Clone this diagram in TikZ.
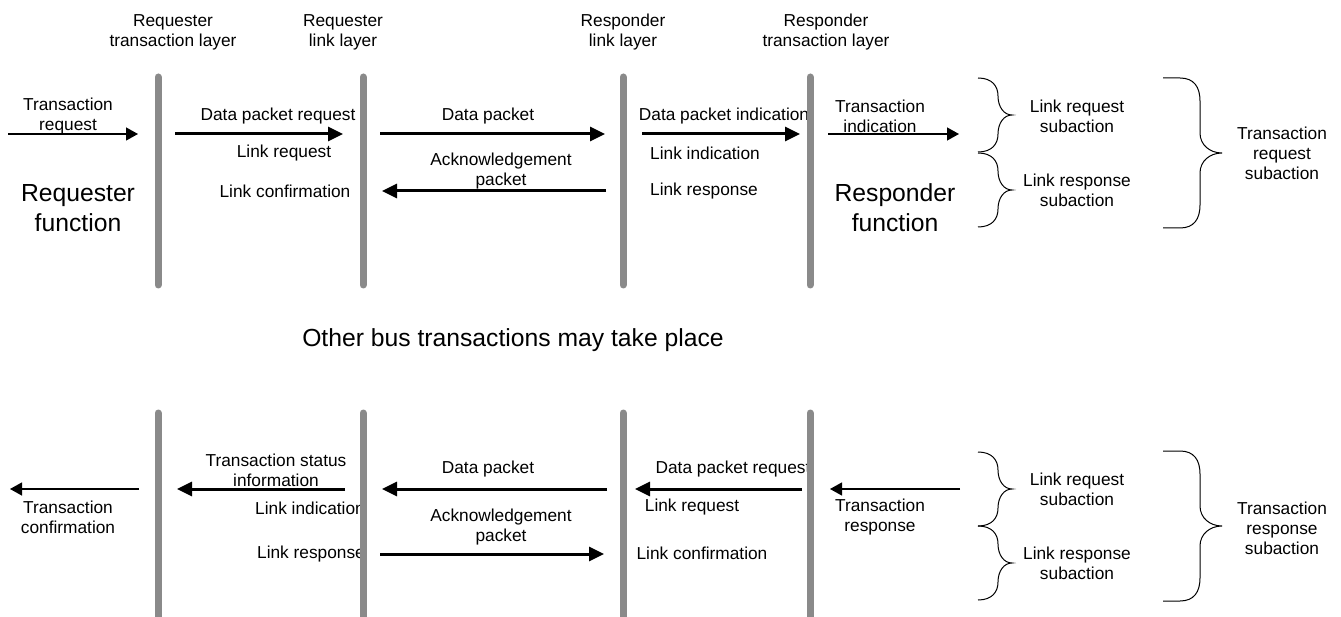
\documentclass[tikz,border=0pt]{standalone}
\usepackage{fontspec}
\setmainfont{Liberation Sans}
\usetikzlibrary{arrows.meta}
\definecolor{layergray}{RGB}{138,138,138}
\tikzset{
  txt/.style={
    inner sep=0pt,
    align=center,
    font=\fontsize{17.3}{20}\selectfont
    },
  bigtxt/.style={
    inner sep=0pt,
    align=center,
    font=\fontsize{24.7}{30}\selectfont
    },
  lifeline/.style={line width=7pt, draw=layergray, line cap=round},
  arrow/.style={line width=3pt, -{Triangle[length=15pt,width=14pt]}},
  thinarrow/.style={line width=1.3pt, -{Triangle[length=12pt,width=13pt]}},
  smallbrace/.pic={
    \draw[line width=1pt] (-34,-37) .. controls (-20,-37) and (-14,-29) .. (-14,-19)
      .. controls (-14,-8) and (-8,0) .. (0,0)
      .. controls (-8,0) and (-14,8) .. (-14,19)
      .. controls (-14,29) and (-20,37) .. (-34,37);
    },
  bigbrace/.pic={
    \draw[line width=1pt] (-59,-75) -- (-42,-75) .. controls (-28,-75) and (-22,-66) .. (-22,-52)
      -- (-22,-20) .. controls (-22,-8) and (-12,0) .. (0,0)
      .. controls (-12,0) and (-22,8) .. (-22,20) -- (-22,52)
      .. controls (-22,66) and (-28,75) .. (-42,75) -- (-59,75);
    },
}

\begin{document}
\begin{tikzpicture}[
            x = 1pt, y = -1pt, % one unit per pixel, y downwards
            semithick % line style
        ]
  \useasboundingbox (0,0) rectangle (1341,617);

  % layer headings
  \node[txt] (hrqt) at (173,32) {Requester\\transaction layer};
  \node[txt] (hrql) at (343,32) {Requester\\link layer};
  \node[txt] (hrsl) at (623,32) {Responder\\link layer};
  \node[txt] (hrst) at (826,32) {Responder\\transaction layer};

  % request subaction
  \node[txt] (treq) at (68,116) {Transaction\\request};
  \node[txt] (dpreq) at (278,116) {Data packet request};
  \node[txt] (lreq) at (284,153) {Link request};
  \node[txt] (lconf) at (285,191) {Link confirmation};
  \node[bigtxt] (rqfun) at (78,208) {Requester\\function};
  \node[txt] (dp) at (488,116) {Data packet};
  \node[txt] (ack) at (501,171) {Acknowledgement\\packet};
  \node[txt] (dpind) at (724,116) {Data packet indication};
  \node[txt] (lind) at (705,153) {Link indication};
  \node[txt] (lresp) at (704,191) {Link response};
  \node[txt] (tind) at (880,116) {Transaction\\indication};
  \node[bigtxt] (rsfun) at (895,208) {Responder\\function};
  \node[txt] (lreqsub) at (1077,116) {Link request\\subaction};
  \node[txt] (lrespsub) at (1077,190) {Link response\\subaction};
  \node[txt] (treqsub) at (1282,153) {Transaction\\request\\subaction};

  \node[bigtxt] (other) at (513,340) {Other bus transactions may take place};

  % response subaction
  \node[txt] (tconf) at (68,517) {Transaction\\confirmation};
  \node[txt] (tstat) at (276,470) {Transaction status\\information};
  \node[txt] (lind2) at (310,508) {Link indication};
  \node[txt] (lresp2) at (311,554) {Link response};
  \node[txt] (dp2) at (488,469) {Data packet};
  \node[txt] (ack2) at (501,527) {Acknowledgement\\packet};
  \node[txt] (dpreq2) at (733,469) {Data packet request};
  \node[txt] (lreq2) at (692,507) {Link request};
  \node[txt] (lconf2) at (702,553) {Link confirmation};
  \node[txt] (tresp) at (880,517) {Transaction\\response};
  \node[txt] (lreqsub2) at (1077,489) {Link request\\subaction};
  \node[txt] (lrespsub2) at (1077,563) {Link response\\subaction};
  \node[txt] (trespsub) at (1282,528) {Transaction\\response\\subaction};

  % layers
  \draw[lifeline] (158,77) -- (158,285);
  \draw[lifeline] (363,77) -- (363,285);
  \draw[lifeline] (623,77) -- (623,285);
  \draw[lifeline] (810,77) -- (810,285);
  \draw[lifeline] (158,413) -- (158,630);
  \draw[lifeline] (363,413) -- (363,630);
  \draw[lifeline] (623,413) -- (623,630);
  \draw[lifeline] (810,413) -- (810,630);

  % arrow ends
  \coordinate (treq0) at (8,134);    \coordinate (treq1) at (138,134);
  \coordinate (dpreq0) at (175,134); \coordinate (dpreq1) at (343,134);
  \coordinate (dp0) at (380,134);    \coordinate (dp1) at (605,134);
  \coordinate (ack0) at (606,191);   \coordinate (ack1) at (382,191);
  \coordinate (dpind0) at (642,134); \coordinate (dpind1) at (800,134);
  \coordinate (tind0) at (828,134);  \coordinate (tind1) at (959,134);

  \coordinate (tconf0) at (139,489);  \coordinate (tconf1) at (10,489);
  \coordinate (tstat0) at (345,489);  \coordinate (tstat1) at (177,489);
  \coordinate (dp20) at (607,489);    \coordinate (dp21) at (382,489);
  \coordinate (ack20) at (380,554);   \coordinate (ack21) at (604,554);
  \coordinate (dpreq20) at (802,489); \coordinate (dpreq21) at (635,489);
  \coordinate (tresp0) at (960,489);  \coordinate (tresp1) at (830,489);

  \draw[thinarrow] (treq0) -- (treq1);
  \draw[arrow] (dpreq0) -- (dpreq1);
  \draw[arrow] (dp0) -- (dp1);
  \draw[arrow] (ack0) -- (ack1);
  \draw[arrow] (dpind0) -- (dpind1);
  \draw[thinarrow] (tind0) -- (tind1);

  \draw[thinarrow] (tconf0) -- (tconf1);
  \draw[arrow] (tstat0) -- (tstat1);
  \draw[arrow] (dp20) -- (dp21);
  \draw[arrow] (ack20) -- (ack21);
  \draw[arrow] (dpreq20) -- (dpreq21);
  \draw[thinarrow] (tresp0) -- (tresp1);

  % braces
  \pic at (1012,115) {smallbrace};
  \pic at (1012,190) {smallbrace};
  \pic at (1222,153) {bigbrace};
  \pic at (1012,489) {smallbrace};
  \pic at (1012,563) {smallbrace};
  \pic at (1222,526) {bigbrace};
\end{tikzpicture}
\end{document}
